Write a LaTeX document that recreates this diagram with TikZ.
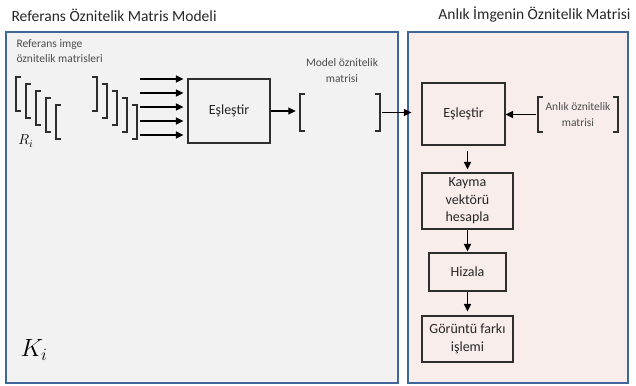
\documentclass[tikz,border=0pt]{standalone}
\usepackage{fontspec}
\setmainfont{Carlito}
\usetikzlibrary{arrows.meta,calc,positioning}
\definecolor{KMEdge}{HTML}{41679A}
\definecolor{KMGrey}{HTML}{F2F2F2}
\definecolor{KMRose}{HTML}{F8EDEB}
\definecolor{KMInk}{HTML}{2E2E2E}
% square brackets round an (empty) node
\newcommand{\matpair}[1]{%
  \draw[brak] ([xshift=5pt]#1.north west) -| (#1.south west) -- ++(5,0);
  \draw[brak] ([xshift=-5pt]#1.north east) -| (#1.south east) -- ++(-5,0);}

\begin{document}
\begin{tikzpicture}[x=1pt,y=-1pt,
    >={Triangle[length=7.5pt,width=7pt]},
    panel/.style={draw=KMEdge,line width=2.2pt},
    title/.style={font=\fontsize{15.5}{17}\selectfont,text=black!85},
    note/.style={font=\fontsize{11.5}{15.5}\selectfont,align=center,text=black!70},
    stepbox/.style={draw=KMInk,line width=1.2pt,align=center,inner sep=0pt,
      font=\fontsize{14}{17.5}\selectfont,text=black!85},
    matrix box/.style={inner sep=0pt,minimum width=#1},
    link/.style={->,line width=1.3pt},
    brak/.style={line width=1.5pt,draw=KMInk}
  ]
  \useasboundingbox (0,0) rectangle (636,385);

  % the two panels
  \draw[panel,fill=KMGrey] (6,32) rectangle (398,383);
  \draw[panel,fill=KMRose] (408,32) rectangle (628,383);
  \node[title,anchor=west] (ttlL) at (8,15) {Referans Öznitelik Matris Modeli};
  \node[title,anchor=east] (ttlR) at (634,15) {Anlık İmgenin Öznitelik Matrisi};

  % reference matrices
  \node[note,align=left,anchor=north west] (refnote) at (13,36)
    {Referans imge\\öznitelik matrisleri};
  \foreach \k in {0,...,4} {
    \node[matrix box=81pt,minimum height=34pt] (ref\k) at (56.5+10*\k,94+7*\k) {};
    \matpair{ref\k}
  }
  \node (Ri) at (26,141) {\fontsize{15}{15}\selectfont$R_i$};
  \node (Ki) at (34,350) {\fontsize{25}{25}\selectfont$K_i$};

  \node[stepbox,minimum width=82pt,minimum height=64pt] (match) at (229,111) {Eşleştir};
  \foreach \y in {79,93,107,121,135} {
    \coordinate (in\y) at (140,\y);
    \draw[link,shorten >=4pt] (in\y) -- (match.west |- in\y);
  }

  \node[matrix box=80pt,minimum height=37pt] (model) at (340,112.5) {};
  \matpair{model}
  \node[note] (modelnote) at (342,70.5) {Model öznitelik\\matrisi};
  \draw[link,shorten >=4pt] (match.east) -- (match.east -| model.west);

  % right panel
  \node[stepbox,minimum width=83pt,minimum height=62pt] (match2) at (463.5,114) {Eşleştir};
  \node[note,matrix box=80pt,minimum height=35pt] (live) at (578,114.5)
    {Anlık öznitelik\\matrisi};
  \matpair{live}
  \node[stepbox,minimum width=91pt,minimum height=56pt] (shift) at (467.5,201)
    {Kayma\\vektörü\\hesapla};
  \node[stepbox,minimum width=77pt,minimum height=38pt] (align) at (467.5,272) {Hizala};
  \node[stepbox,minimum width=91pt,minimum height=46pt] (diff) at (467.5,339)
    {Görüntü farkı\\işlemi};

  \draw[link,shorten <=2pt,shorten >=10pt] (model.east) -- (model.east -| match2.west);
  \draw[link,shorten <=2pt] (live.west) -- (live.west -| match2.east);
  \draw[link,shorten <=5pt,shorten >=3pt] (match2.south -| shift.north) -- (shift.north);
  \draw[link,shorten >=1pt] (shift.south) -- (align.north);
  \draw[link,shorten >=4pt] (align.south) -- (diff.north);
\end{tikzpicture}
\end{document}
